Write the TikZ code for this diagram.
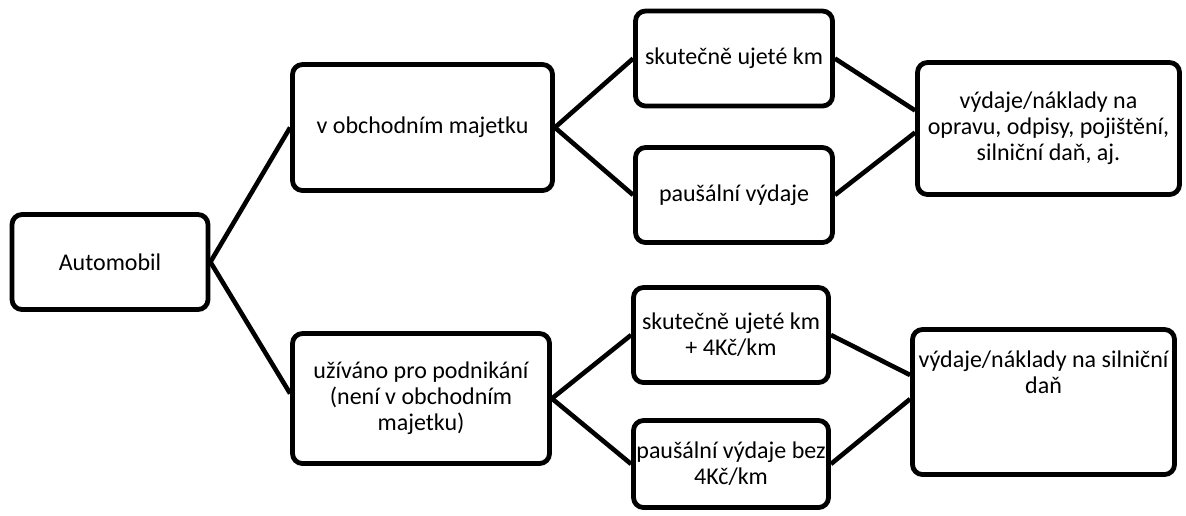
\documentclass[tikz,border=0pt]{standalone}
\usepackage{fontspec}
\setmainfont{Carlito}
\tikzset{
box/.style={draw,line width=2.4pt,rounded corners=5pt,align=center,inner sep=0pt,font=\fontsize{12}{13}\selectfont},
link/.style={line width=2.3pt}
}
\begin{document}
\begin{tikzpicture}[x=0.5pt,y=-0.5pt]
\useasboundingbox (0,0) rectangle (1186,515);
\node (auto) at (110,262) [box,minimum width=98pt,minimum height=47.5pt] {Automobil};
\node (obch) at (422.5,127.5) [box,minimum width=130pt,minimum height=63pt] {v obchodním majetku};
\node (uziv) at (421,398.5) [box,minimum width=128.5pt,minimum height=65pt] {užíváno pro podnikání\\(není v obchodním\\majetku)};
\node (skut) at (734,58.5) [box,minimum width=98.5pt,minimum height=47.5pt] {skutečně ujeté km};
\node (paus) at (734,195) [box,minimum width=98.5pt,minimum height=47.5pt] {paušální výdaje};
\node (skutkc) at (731,335) [box,minimum width=97.5pt,minimum height=47.5pt] {skutečně ujeté km\\+ 4Kč/km};
\node (pausbez) at (731,464) [box,minimum width=97.5pt,minimum height=43.5pt] {paušální výdaje bez\\4Kč/km};
\node (vyd) at (1048.5,128.5) [box,minimum width=131pt,minimum height=66pt] {výdaje/náklady na\\opravu, odpisy, pojištění,\\silniční daň, aj.};
\node (vyddan) at (1043.5,402) [box,minimum width=131pt,minimum height=72.5pt] {};
\node (vyddantxt) at ([yshift=15pt]vyddan.center) [align=center,font=\fontsize{12}{13}\selectfont] {výdaje/náklady na silniční\\daň};
\draw[link] (auto.east)--(obch.west);
\draw[link] (auto.east)--([yshift=2.5pt]uziv.west);
\draw[link] (obch.east)--(skut.west);
\draw[link] (obch.east)--(paus.west);
\draw[link] (uziv.east)--(skutkc.west);
\draw[link] (uziv.east)--(pausbez.west);
\draw[link] (skut.east)--([yshift=9pt]vyd.west);
\draw[link] (paus.east)--([yshift=-2pt]vyd.west);
\draw[link] (skutkc.east)--([yshift=13.5pt]vyddan.west);
\draw[link] (pausbez.east)--([yshift=1.5pt]vyddan.west);
\end{tikzpicture}
\end{document}
